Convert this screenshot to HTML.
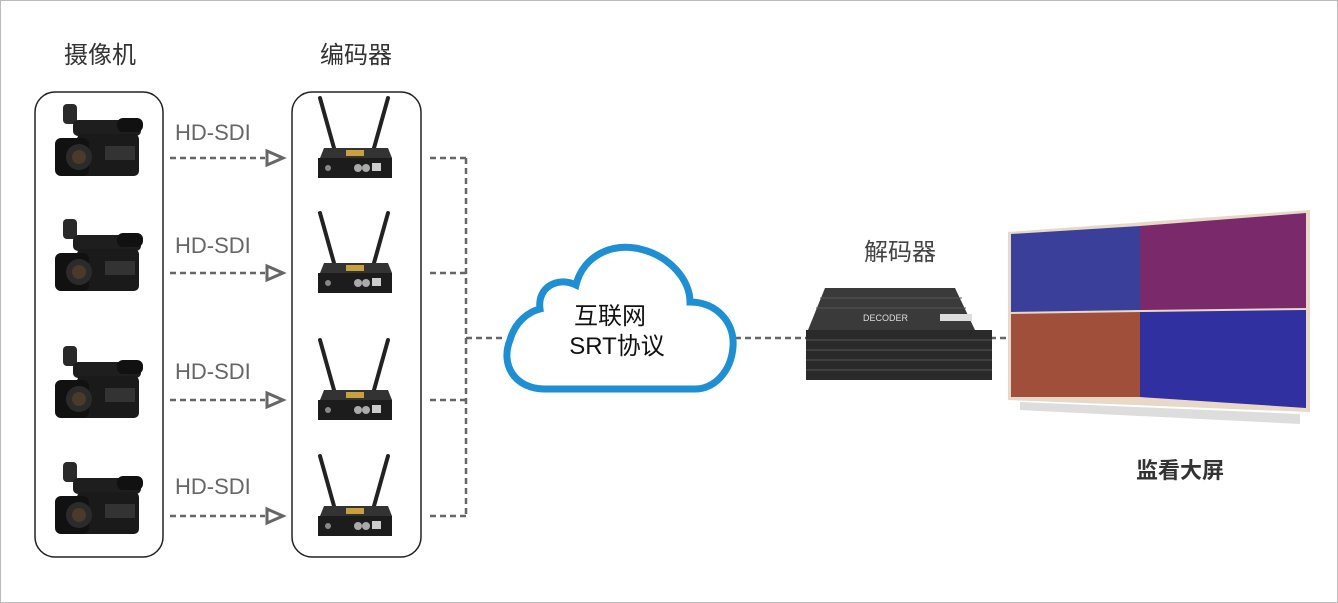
<!DOCTYPE html>
<html><head><meta charset="utf-8"><style>
html,body{margin:0;padding:0;background:#fff;}
svg{display:block;}
text{font-family:"Liberation Sans","Noto Sans CJK SC",sans-serif;}
</style></head><body>
<svg width="1338" height="603" viewBox="0 0 1338 603" xmlns="http://www.w3.org/2000/svg">
<defs>
<g id="cam">
  <rect x="8" y="4" width="14" height="20" rx="4" fill="#2a2a2a"/>
  <rect x="18" y="20" width="68" height="16" rx="5" fill="#1e1e1e"/>
  <rect x="62" y="18" width="26" height="14" rx="6" fill="#111"/>
  <rect x="22" y="34" width="62" height="42" rx="5" fill="#1a1a1a"/>
  <rect x="0" y="38" width="34" height="38" rx="6" fill="#111"/>
  <circle cx="24" cy="57" r="13" fill="#2b2b2b"/>
  <circle cx="24" cy="57" r="7" fill="#4a3a2a"/>
  <rect x="50" y="46" width="30" height="14" fill="#333"/>
</g>
<g id="enc">
  <line x1="2" y1="0" x2="16" y2="50" stroke="#222" stroke-width="4" stroke-linecap="round"/>
  <line x1="70" y1="0" x2="56" y2="50" stroke="#222" stroke-width="4" stroke-linecap="round"/>
  <polygon points="6,50 70,50 74,60 2,60" fill="#333"/>
  <rect x="0" y="60" width="74" height="20" fill="#1c1c1c"/>
  <rect x="28" y="52" width="18" height="6" fill="#c9a040"/>
  <circle cx="10" cy="70" r="3" fill="#888"/>
  <circle cx="40" cy="70" r="4" fill="#aaa"/>
  <circle cx="48" cy="70" r="4" fill="#aaa"/>
  <rect x="54" y="65" width="9" height="8" fill="#ccc"/>
</g>
</defs>
<rect x="0.5" y="0.5" width="1337" height="602" fill="#fff" stroke="#bbb"/>

<text x="100" y="63" font-size="24" fill="#333" text-anchor="middle">摄像机</text>
<text x="356" y="63" font-size="24" fill="#333" text-anchor="middle">编码器</text>

<rect x="35" y="92" width="128" height="465" rx="20" fill="none" stroke="#222" stroke-width="1.5"/>
<rect x="292" y="92" width="129" height="465" rx="20" fill="none" stroke="#222" stroke-width="1.5"/>

<g fill="#666" font-size="22">
<text x="175" y="140">HD-SDI</text>
<text x="175" y="253">HD-SDI</text>
<text x="175" y="379">HD-SDI</text>
<text x="175" y="494">HD-SDI</text>
</g>

<g stroke="#666" stroke-width="2.5" stroke-dasharray="6,4" fill="none">
<line x1="170" y1="158" x2="265" y2="158"/>
<line x1="170" y1="273" x2="265" y2="273"/>
<line x1="170" y1="400" x2="265" y2="400"/>
<line x1="170" y1="516" x2="265" y2="516"/>
<path d="M430,158 H466 M430,273 H466 M430,400 H466 M430,516 H466 M466,158 V516 M466,338 H505"/>
<line x1="735" y1="338" x2="810" y2="338"/>
<line x1="990" y1="338" x2="1010" y2="338"/>
</g>
<g fill="none" stroke="#666" stroke-width="3">
<polygon points="267,151 283,158 267,165"/>
<polygon points="267,266 283,273 267,280"/>
<polygon points="267,393 283,400 267,407"/>
<polygon points="267,509 283,516 267,523"/>
</g>

<use href="#cam" x="55" y="100"/>
<use href="#cam" x="55" y="215"/>
<use href="#cam" x="55" y="342"/>
<use href="#cam" x="55" y="458"/>
<use href="#enc" x="318" y="98"/>
<use href="#enc" x="318" y="213"/>
<use href="#enc" x="318" y="340"/>
<use href="#enc" x="318" y="456"/>

<path d="M545,389 C515,389 500,365 510,340 C515,322 528,312 540,309 C537,287 558,276 576,285 C583,256 612,242 640,249 C670,256 690,280 690,302 C716,302 735,322 733,347 C731,372 714,389 695,389 Z" fill="#fff" stroke="#1e8fd2" stroke-width="7"/>
<text x="610" y="324" font-size="24" fill="#111" text-anchor="middle">互联网</text>
<text x="617" y="354" font-size="24" fill="#111" text-anchor="middle">SRT协议</text>

<text x="900" y="260" font-size="24" fill="#444" text-anchor="middle">解码器</text>
<polygon points="825,288 955,288 975,330 808,330" fill="#3a3a3a"/>
<rect x="806" y="330" width="186" height="50" fill="#2a2a2a"/>
<g stroke="#555" stroke-width="1">
<line x1="806" y1="340" x2="992" y2="340"/><line x1="806" y1="350" x2="992" y2="350"/>
<line x1="806" y1="360" x2="992" y2="360"/><line x1="806" y1="370" x2="992" y2="370"/>
<line x1="820" y1="298" x2="962" y2="298"/><line x1="816" y1="308" x2="966" y2="308"/>
</g>
<text x="863" y="321" font-size="9" fill="#ddd">DECODER</text>
<rect x="940" y="314" width="32" height="7" fill="#ddd"/>

<polygon points="1008,232 1310,210 1310,412 1008,400" fill="#e8d8c8"/>
<polygon points="1011,234 1140,226 1140,310 1011,312" fill="#3a3f9a"/>
<polygon points="1140,226 1306,213 1306,308 1140,310" fill="#7a2a6a"/>
<polygon points="1011,314 1140,312 1140,397 1011,397" fill="#a0503a"/>
<polygon points="1140,312 1306,310 1306,408 1140,397" fill="#3030a0"/>
<polygon points="1020,402 1300,414 1300,424 1020,410" fill="#ddd"/>

<text x="1180" y="478" font-size="22" font-weight="bold" fill="#333" text-anchor="middle">监看大屏</text>
</svg>
</body></html>
